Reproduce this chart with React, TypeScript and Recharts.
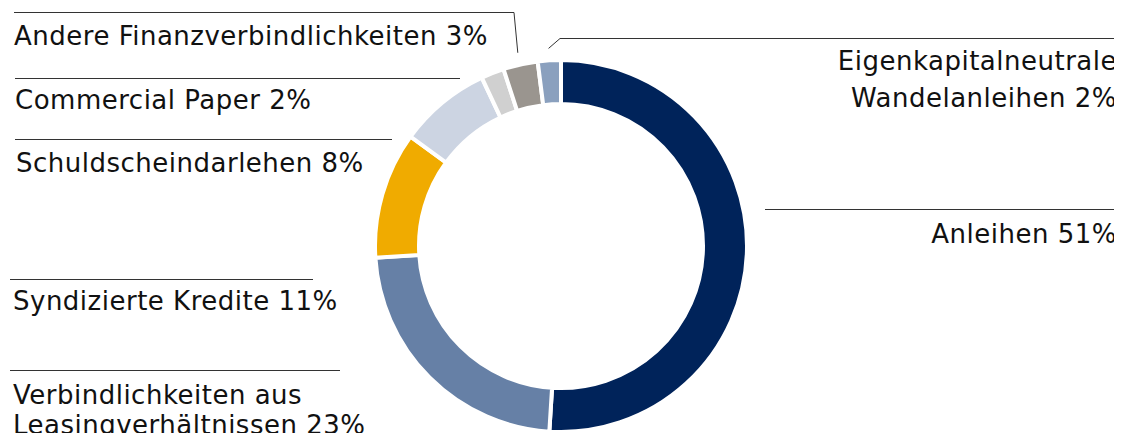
import React from 'react';
import { PieChart, Pie, Cell } from 'recharts';

// Finanzierungsstruktur, Anteile in %
const categories = [
  'Anleihen',
  'Verbindlichkeiten aus\nLeasingverhältnissen',
  'Syndizierte Kredite',
  'Schuldscheindarlehen',
  'Commercial Paper',
  'Andere Finanzverbindlichkeiten',
  'Eigenkapitalneutrale\nWandelanleihen',
];
const shares = [51, 23, 11, 8, 2, 3, 2];
const colors = ['#00235a', '#6680a6', '#f0ab00', '#ccd4e2', '#d0d0d0', '#9a958f', '#8aa0be'];

// label placement: horizontal rule + text block per slice
const labelLayout = [
  { ruleY: 209, ruleX: [765, 1120], anchor: 'end', textX: 1117, lines: [243], leader: false },
  { ruleY: 370, ruleX: [10, 340], anchor: 'start', textX: 13, lines: [404, 434], leader: false },
  { ruleY: 279, ruleX: [10, 313], anchor: 'start', textX: 13, lines: [310], leader: false },
  { ruleY: 139, ruleX: [15, 392], anchor: 'start', textX: 16, lines: [172], leader: false },
  { ruleY: 78, ruleX: [15, 460], anchor: 'start', textX: 15, lines: [109], leader: false },
  { ruleY: 12, ruleX: [14, 514], anchor: 'start', textX: 14, lines: [45], leader: true },
  { ruleY: 38, ruleX: [560, 1120], anchor: 'end', textX: 1117, lines: [70, 107], leader: true },
];

const data = categories.map((name, i) => ({ name, value: shares[i] }));

const RADIAN = Math.PI / 180;

const renderLabel = (props: any) => {
  const { cx, cy, midAngle, outerRadius, index, name, value } = props;
  const lay = labelLayout[index];
  const textLines = (name + ' ' + value + '%').split('\n');
  const r = outerRadius + 12;
  const px = cx + r * Math.cos(-midAngle * RADIAN);
  const py = cy + r * Math.sin(-midAngle * RADIAN);
  const leaderEnd = lay.anchor === 'start' ? lay.ruleX[1] : lay.ruleX[0];
  const ry = lay.ruleY + 0.5;
  return (
    <g>
      <line x1={lay.ruleX[0]} y1={ry} x2={lay.ruleX[1]} y2={ry} stroke="#333" strokeWidth={1} />
      {lay.leader && (
        <line x1={px} y1={py} x2={leaderEnd} y2={ry} stroke="#333" strokeWidth={1} />
      )}
      {textLines.map((t, j) => (
        <text
          key={j}
          x={lay.textX}
          y={lay.lines[j]}
          textAnchor={lay.anchor}
          fill="#111"
          fontSize={26}
          letterSpacing={0.5}
          fontFamily="DejaVu Sans, Verdana, sans-serif"
        >
          {t}
        </text>
      ))}
    </g>
  );
};

export default function App() {
  return (
    <div style={{ width: 1122, height: 441, margin: -8, background: '#fff' }}>
      <PieChart width={1122} height={441} margin={{ top: 0, right: 0, bottom: 0, left: 0 }}>
        <Pie
          data={data}
          dataKey="value"
          nameKey="name"
          cx={561}
          cy={246}
          outerRadius={186}
          innerRadius={142}
          startAngle={90}
          endAngle={-270}
          stroke="#fff"
          strokeWidth={4}
          label={renderLabel}
          labelLine={false}
          isAnimationActive={false}
        >
          {data.map((d, i) => (
            <Cell key={d.name} fill={colors[i]} />
          ))}
        </Pie>
      </PieChart>
    </div>
  );
}
